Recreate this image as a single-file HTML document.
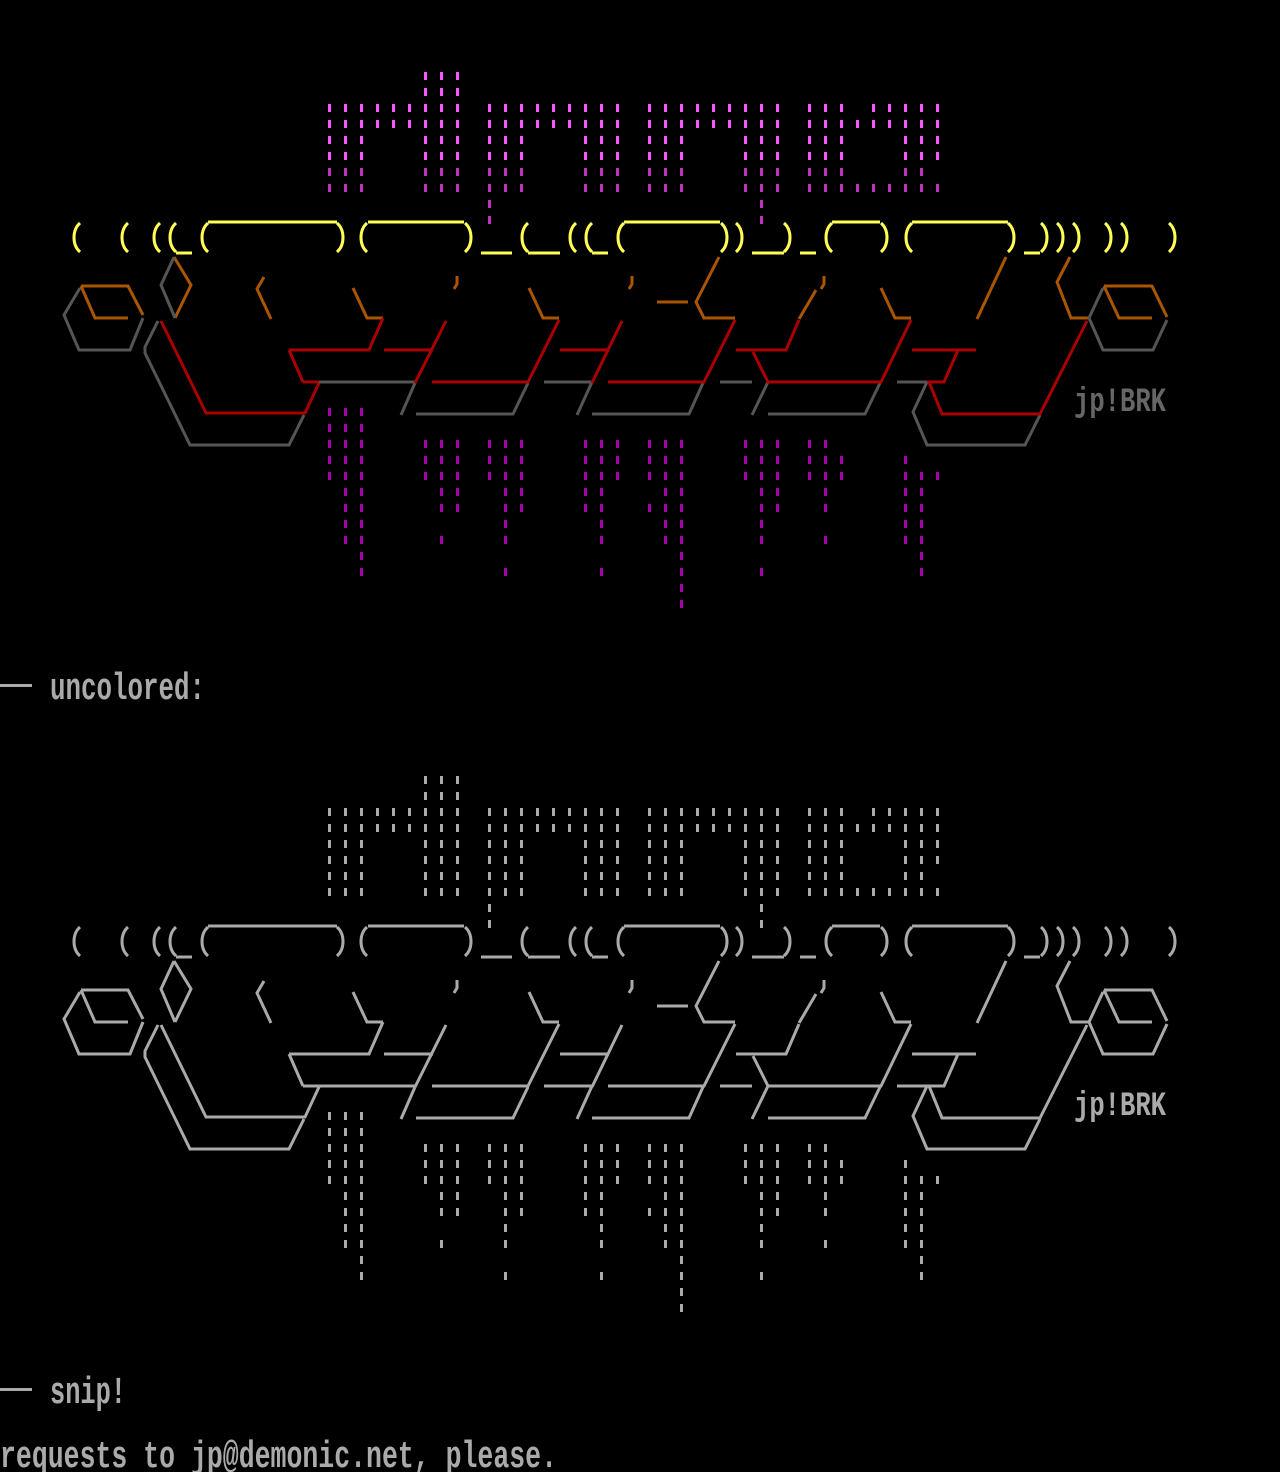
<!DOCTYPE html>
<html><head><meta charset="utf-8"><style>
html,body{margin:0;padding:0;background:#000;}
svg{display:block}
.t{font-family:"Liberation Mono","DejaVu Sans Mono",monospace;fill:#aaaaaa;font-weight:bold;}
</style></head><body>
<svg width="1280" height="1472" viewBox="0 0 1280 1472" xmlns="http://www.w3.org/2000/svg">
<rect width="1280" height="1472" fill="#000"/>
<defs>
<g id="art" fill="none" stroke-width="3" stroke-linejoin="miter">
 <g style="stroke:var(--p1)" stroke-width="8" stroke-dasharray="3 13">
  <line x1="424" y1="76" x2="459" y2="76"/><line x1="424" y1="92" x2="459" y2="92"/>
  <line x1="328" y1="108" x2="459" y2="108"/><line x1="488" y1="108" x2="619" y2="108"/><line x1="648" y1="108" x2="779" y2="108"/><line x1="808" y1="108" x2="843" y2="108"/><line x1="872" y1="108" x2="939" y2="108"/>
  <line x1="328" y1="124" x2="459" y2="124"/><line x1="488" y1="124" x2="619" y2="124"/><line x1="648" y1="124" x2="779" y2="124"/><line x1="808" y1="124" x2="939" y2="124"/>
  <line x1="328" y1="140" x2="363" y2="140"/><line x1="424" y1="140" x2="459" y2="140"/><line x1="488" y1="140" x2="523" y2="140"/><line x1="584" y1="140" x2="619" y2="140"/><line x1="648" y1="140" x2="683" y2="140"/><line x1="744" y1="140" x2="779" y2="140"/><line x1="808" y1="140" x2="843" y2="140"/><line x1="904" y1="140" x2="939" y2="140"/>
  <line x1="328" y1="156" x2="363" y2="156"/><line x1="424" y1="156" x2="459" y2="156"/><line x1="488" y1="156" x2="523" y2="156"/><line x1="584" y1="156" x2="619" y2="156"/><line x1="648" y1="156" x2="683" y2="156"/><line x1="744" y1="156" x2="779" y2="156"/><line x1="808" y1="156" x2="843" y2="156"/><line x1="904" y1="156" x2="939" y2="156"/>
 </g>
 <g style="stroke:var(--p2)" stroke-width="8" stroke-dasharray="3 13">
  <line x1="328" y1="172" x2="363" y2="172"/><line x1="424" y1="172" x2="459" y2="172"/><line x1="488" y1="172" x2="523" y2="172"/><line x1="584" y1="172" x2="619" y2="172"/><line x1="648" y1="172" x2="683" y2="172"/><line x1="744" y1="172" x2="779" y2="172"/><line x1="808" y1="172" x2="843" y2="172"/><line x1="904" y1="172" x2="923" y2="172"/>
  <line x1="328" y1="188" x2="363" y2="188"/><line x1="424" y1="188" x2="459" y2="188"/><line x1="488" y1="188" x2="523" y2="188"/><line x1="584" y1="188" x2="619" y2="188"/><line x1="648" y1="188" x2="683" y2="188"/><line x1="744" y1="188" x2="779" y2="188"/><line x1="808" y1="188" x2="939" y2="188"/>
  <line x1="488" y1="204" x2="491" y2="204"/><line x1="760" y1="204" x2="763" y2="204"/>
  <line x1="488" y1="220" x2="491" y2="220"/><line x1="760" y1="220" x2="763" y2="220"/>
 </g>
 <g style="stroke:var(--p3)" stroke-width="8" stroke-dasharray="3 13">
  <line x1="328" y1="412" x2="363" y2="412"/>
  <line x1="328" y1="428" x2="363" y2="428"/>
  <line x1="328" y1="444" x2="363" y2="444"/><line x1="424" y1="444" x2="459" y2="444"/><line x1="488" y1="444" x2="523" y2="444"/><line x1="584" y1="444" x2="619" y2="444"/><line x1="648" y1="444" x2="683" y2="444"/><line x1="744" y1="444" x2="779" y2="444"/><line x1="808" y1="444" x2="827" y2="444"/>
  <line x1="328" y1="460" x2="363" y2="460"/><line x1="424" y1="460" x2="459" y2="460"/><line x1="488" y1="460" x2="523" y2="460"/><line x1="584" y1="460" x2="619" y2="460"/><line x1="648" y1="460" x2="683" y2="460"/><line x1="744" y1="460" x2="779" y2="460"/><line x1="808" y1="460" x2="843" y2="460"/><line x1="904" y1="460" x2="907" y2="460"/>
  <line x1="328" y1="476" x2="363" y2="476"/><line x1="424" y1="476" x2="459" y2="476"/><line x1="488" y1="476" x2="523" y2="476"/><line x1="584" y1="476" x2="619" y2="476"/><line x1="648" y1="476" x2="683" y2="476"/><line x1="744" y1="476" x2="779" y2="476"/><line x1="808" y1="476" x2="843" y2="476"/><line x1="904" y1="476" x2="939" y2="476"/>
  <line x1="344" y1="492" x2="363" y2="492"/><line x1="440" y1="492" x2="459" y2="492"/><line x1="504" y1="492" x2="523" y2="492"/><line x1="584" y1="492" x2="603" y2="492"/><line x1="664" y1="492" x2="683" y2="492"/><line x1="760" y1="492" x2="779" y2="492"/><line x1="824" y1="492" x2="827" y2="492"/><line x1="904" y1="492" x2="923" y2="492"/>
  <line x1="344" y1="508" x2="363" y2="508"/><line x1="440" y1="508" x2="459" y2="508"/><line x1="504" y1="508" x2="523" y2="508"/><line x1="584" y1="508" x2="603" y2="508"/><line x1="648" y1="508" x2="683" y2="508"/><line x1="760" y1="508" x2="779" y2="508"/><line x1="824" y1="508" x2="827" y2="508"/><line x1="904" y1="508" x2="923" y2="508"/>
  <line x1="344" y1="524" x2="363" y2="524"/><line x1="504" y1="524" x2="507" y2="524"/><line x1="600" y1="524" x2="603" y2="524"/><line x1="664" y1="524" x2="683" y2="524"/><line x1="760" y1="524" x2="763" y2="524"/><line x1="904" y1="524" x2="923" y2="524"/>
  <line x1="344" y1="540" x2="363" y2="540"/><line x1="440" y1="540" x2="443" y2="540"/><line x1="504" y1="540" x2="507" y2="540"/><line x1="600" y1="540" x2="603" y2="540"/><line x1="664" y1="540" x2="683" y2="540"/><line x1="760" y1="540" x2="763" y2="540"/><line x1="824" y1="540" x2="827" y2="540"/><line x1="904" y1="540" x2="923" y2="540"/>
  <line x1="360" y1="556" x2="363" y2="556"/><line x1="680" y1="556" x2="683" y2="556"/><line x1="920" y1="556" x2="923" y2="556"/>
  <line x1="360" y1="572" x2="363" y2="572"/><line x1="504" y1="572" x2="507" y2="572"/><line x1="600" y1="572" x2="603" y2="572"/><line x1="680" y1="572" x2="683" y2="572"/><line x1="760" y1="572" x2="763" y2="572"/><line x1="920" y1="572" x2="923" y2="572"/>
  <line x1="680" y1="588" x2="683" y2="588"/>
  <line x1="680" y1="604" x2="683" y2="604"/>
 </g>
 <g style="stroke:var(--y)">
  <path d="M80 223 C72 230 72 245 80 252 M128 223 C120 230 120 245 128 252 M160 223 C152 230 152 245 160 252 M176 223 C168 230 168 245 176 252 M208 223 C200 230 200 245 208 252 M367 223 C359 230 359 245 367 252 M528 223 C520 230 520 245 528 252 M576 223 C568 230 568 245 576 252 M592 223 C584 230 584 245 592 252 M624 223 C616 230 616 245 624 252 M832 223 C824 230 824 245 832 252 M912 223 C904 230 904 245 912 252"/>
  <path d="M337 223 C345 230 345 245 337 252 M465 223 C473 230 473 245 465 252 M721 223 C729 230 729 245 721 252 M736 223 C744 230 744 245 736 252 M784 223 C792 230 792 245 784 252 M881 223 C889 230 889 245 881 252 M1008 223 C1016 230 1016 245 1008 252 M1041 223 C1049 230 1049 245 1041 252 M1057 223 C1065 230 1065 245 1057 252 M1073 223 C1081 230 1081 245 1073 252 M1105 223 C1113 230 1113 245 1105 252 M1121 223 C1129 230 1129 245 1121 252 M1169 223 C1177 230 1177 245 1169 252"/>
  <path d="M208 222 H337 M368 222 H464 M624 222 H720 M832 222 H880 M912 222 H1008"/>
  <path d="M176 253 H192 M481 253 H512 M528 253 H560 M592 253 H608 M752 253 H784 M800 253 H816 M1024 253 H1040"/>
 </g>
 <g style="stroke:var(--o)">
  <path d="M81 286 H128 L143 315 M81 286 L95 318 H128"/>
  <path d="M174 257 L191 285 L175 318"/>
  <path d="M264 277 L257 289 L271 319"/>
  <path d="M457 276 V284 L454 289"/>
  <path d="M353 288 L367 318 H383"/>
  <path d="M529 288 L543 318 H559"/>
  <path d="M632 276 V284 L629 289"/>
  <path d="M719 257 L696 302 L704 318 H735 M657 302 H688"/>
  <path d="M824 276 V284 L821 289 M816 290 L799 319"/>
  <path d="M881 288 L895 318 H911"/>
  <path d="M1006 257 L977 319"/>
  <path d="M1070 257 L1057 282 L1071 318 H1088"/>
  <path d="M1104 286 H1152 L1167 317 M1104 286 L1119 318 H1152"/>
 </g>
 <g style="stroke:var(--g)">
  <path d="M80 288 L64 315 L79 350 H130 L143 318"/>
  <path d="M174 257 L161 285 L175 318"/>
  <path d="M158 321 L145 347 V353 L190 445 H289 L304 415"/>
  <path d="M319 382 H415 M415 383 L401 415"/>
  <path d="M416 414 H513 L528 383"/>
  <path d="M544 382 H592 L577 415 M592 414 H689 L703 383"/>
  <path d="M720 382 H752 M768 382 L752 415 M768 414 H865 L880 383"/>
  <path d="M897 382 H927 L913 412 L927 445 H1025 L1040 415"/>
  <path d="M1103 288 L1089 318 L1103 350 H1153 L1167 320"/>
 </g>
 <g style="stroke:var(--r)">
  <path d="M161 321 L206 413 H305 L319 383 M303 382 H319"/>
  <path d="M289 350 H369 L383 318 M289 350 L303 382"/>
  <path d="M446 321 L415 383 M384 350 H433"/>
  <path d="M432 382 H528 L559 320"/>
  <path d="M560 350 H608 M622 321 L592 383 M608 382 H704 L735 320"/>
  <path d="M736 350 H786 L799 320 M753 352 L768 382 H881 L911 320"/>
  <path d="M912 350 H976 M958 350 L944 382 H929 L942 414 H1040 L1087 321"/>
 </g>
</g>
</defs>
<g style="--p1:#ff55ff;--p2:#c030c0;--p3:#aa00aa;--y:#ffff55;--o:#aa5500;--g:#555555;--r:#aa0000">
 <use href="#art"/>
</g>
<use href="#art" transform="translate(0,704)" style="--p1:#aaaaaa;--p2:#aaaaaa;--p3:#aaaaaa;--y:#aaaaaa;--o:#aaaaaa;--g:#aaaaaa;--r:#aaaaaa"/>
<text class="t" x="1074" y="411" font-size="34" textLength="92" lengthAdjust="spacingAndGlyphs" style="fill:#666666">jp!BRK</text>
<text class="t" x="1074" y="1115" font-size="34" textLength="92" lengthAdjust="spacingAndGlyphs">jp!BRK</text>
<rect x="0" y="684" width="32" height="3" fill="#aaaaaa"/>
<text class="t" x="50" y="699" font-size="38" textLength="155" lengthAdjust="spacingAndGlyphs">uncolored:</text>
<rect x="0" y="1388" width="32" height="3" fill="#aaaaaa"/>
<text class="t" x="50" y="1403" font-size="38" textLength="76" lengthAdjust="spacingAndGlyphs">snip!</text>
<text class="t" x="0" y="1467" font-size="38" textLength="557" lengthAdjust="spacingAndGlyphs">requests to jp@demonic.net, please.</text>
</svg>
</body></html>
